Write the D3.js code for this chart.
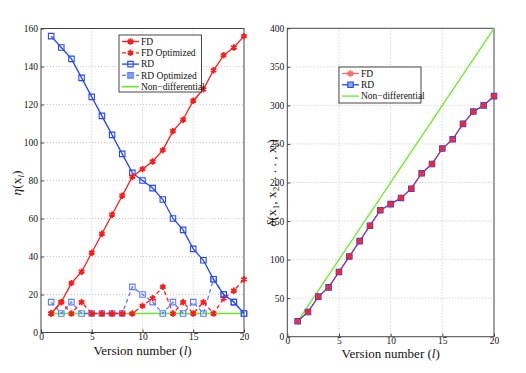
<!DOCTYPE html>
<html>
<head>
<meta charset="utf-8">
<script src="https://cdn.jsdelivr.net/npm/d3@7"></script>
<style>
  body { margin: 0; background: #fff; }
  .grid line { stroke: #bbb; stroke-dasharray: 1,2; stroke-width: 0.8; }
</style>
</head>
<body>
<div id="chart"></div>
<script>
// version numbers
const versions = d3.range(1, 21);

// left panel: eta(x_l)
const fdEta      = [10,16,26,32,42,52,62,72,82,86,90,96,106,112,122,128,138,146,150,156];
const fdOptEta   = [10,16,10,16,10,10,10,10,10,14,18,24,10,16,10,16,10,18,22,28];
const rdEta      = [156,150,144,134,124,114,104,94,84,80,76,70,60,54,44,38,28,20,16,10];
const rdOptEta   = [16,10,16,10,10,10,10,10,24,20,16,10,16,10,16,10,28,20,16,10];
const nonDiffEta = [10,10,10,10,10,10,10,10,10,10,10,10,10,10,10,10,10,10,10,10];

// right panel: delta(x_1..x_l)
const fdDelta      = [20,32,52,64,84,104,124,144,164,172,180,192,212,224,244,256,276,292,300,312];
const rdDelta      = [20,32,52,64,84,104,124,144,164,172,180,192,212,224,244,256,276,292,300,312];
const nonDiffDelta = [20,400];
const nonDiffX     = [1,20];

const xTicks = [0,5,10,15,20];
const leftYTicks = [0,20,40,60,80,100,120,140,160];
const rightYTicks = [0,50,100,150,200,250,300,350,400];

const SERIF = "'Liberation Serif', 'Times New Roman', 'DejaVu Serif', serif";
const RED = "#ff1a1a", BLUE = "#2446ff", LIGHTBLUE = "#5b7cff", GREEN = "#66ee22";

const svg = d3.select("#chart").append("svg")
    .attr("width", 526).attr("height", 373)
    .attr("font-family", SERIF);

function drawPanel(box, yMax, yTicks, series, legend) {
    const x = d3.scaleLinear().domain([0, 20]).range([box.left, box.right]);
    const y = d3.scaleLinear().domain([0, yMax]).range([box.bottom, box.top]);
    const g = svg.append("g");

    // dotted grid
    const grid = g.append("g").attr("class", "grid");
    grid.selectAll(".gx").data(xTicks.slice(1, -1)).enter().append("line")
        .attr("x1", d => x(d)).attr("x2", d => x(d))
        .attr("y1", box.top).attr("y2", box.bottom);
    grid.selectAll(".gy").data(yTicks.slice(1, -1)).enter().append("line")
        .attr("x1", box.left).attr("x2", box.right)
        .attr("y1", d => y(d)).attr("y2", d => y(d));

    // axes
    const xAxis = g.append("g").attr("transform", `translate(0,${box.bottom})`)
        .call(d3.axisBottom(x).tickValues(xTicks).tickSize(-3).tickPadding(1));
    const yAxis = g.append("g").attr("transform", `translate(${box.left},0)`)
        .call(d3.axisLeft(y).tickValues(yTicks).tickSize(-3).tickPadding(3));
    [xAxis, yAxis].forEach(a => {
        a.attr("font-family", SERIF).attr("font-size", 9.5);
        a.select(".domain").remove();
        a.selectAll("line").attr("stroke", "#444");
        a.selectAll("text").attr("fill", "#111");
    });

    // frame
    g.append("rect")
        .attr("x", box.left).attr("y", box.top)
        .attr("width", box.right - box.left).attr("height", box.bottom - box.top)
        .attr("fill", "none").attr("stroke", "#444").attr("stroke-width", 1);

    const clipId = "clip" + Math.round(box.left);
    svg.append("clipPath").attr("id", clipId).append("rect")
        .attr("x", box.left - 6).attr("y", box.top - 8)
        .attr("width", box.right - box.left + 12).attr("height", box.bottom - box.top + 14);
    const plot = g.append("g").attr("clip-path", `url(#${clipId})`);

    series.forEach(s => {
        const pts = s.xs.map((v, i) => [v, s.values[i]]);
        plot.append("path")
            .datum(pts)
            .attr("fill", "none")
            .attr("stroke", s.color)
            .attr("stroke-width", s.width || 1.3)
            .attr("stroke-dasharray", s.dash || null)
            .attr("opacity", s.opacity || 1)
            .attr("d", d3.line().x(d => x(d[0])).y(d => y(d[1])));
        if (s.marker) {
            plot.selectAll(null).data(pts).enter().append("path")
                .attr("transform", d => `translate(${x(d[0])},${y(d[1])})`)
                .call(sel => styleMarker(sel, s));
        }
    });

    // legend
    const lg = g.append("g");
    lg.append("rect")
        .attr("x", legend.x).attr("y", legend.y)
        .attr("width", legend.w).attr("height", legend.h)
        .attr("fill", "#fff").attr("stroke", "#333").attr("stroke-width", 0.9);
    legend.items.forEach((s, i) => {
        const ly = legend.y + 6.5 + i * 11.3;
        lg.append("line")
            .attr("x1", legend.x + 3).attr("x2", legend.x + 20)
            .attr("y1", ly).attr("y2", ly)
            .attr("stroke", s.color).attr("stroke-width", s.width || 1.3)
            .attr("stroke-dasharray", s.dash || null)
            .attr("opacity", s.opacity || 1);
        if (s.marker) {
            lg.append("path")
                .attr("transform", `translate(${legend.x + 11.5},${ly})`)
                .call(sel => styleMarker(sel, s));
        }
        lg.append("text")
            .attr("x", legend.x + 22).attr("y", ly + 3.3)
            .attr("font-size", 9.5).attr("fill", "#111")
            .text(s.name);
    });

    // x label
    const xl = g.append("text")
        .attr("x", (box.left + box.right) / 2).attr("y", box.labelY)
        .attr("text-anchor", "middle")
        .attr("font-size", 13).attr("fill", "#111");
    xl.append("tspan").text("Version number (");
    xl.append("tspan").attr("font-style", "italic").text("l");
    xl.append("tspan").text(")");
    return { x, y, g };
}

function styleMarker(sel, s) {
    if (s.marker === "star") {
        sel.attr("d", d3.symbol().type(d3.symbolAsterisk).size(28)())
            .attr("fill", "none").attr("stroke", s.color).attr("stroke-width", 1.9)
            .attr("opacity", s.opacity || 1);
    } else {
        sel.attr("d", d3.symbol().type(d3.symbolSquare).size(30)())
            .attr("fill", s.fill || "none")
            .attr("stroke", s.mcolor || s.color).attr("stroke-width", 1.1);
    }
}

// left panel
drawPanel(
    { left: 41, right: 244, top: 28.5, bottom: 332.5, labelY: 355 }, 160, leftYTicks,
    [
        { name: "Non\u2212differential", xs: versions, values: nonDiffEta, color: GREEN, width: 1.6 },
        { name: "RD Optimized", xs: versions, values: rdOptEta, color: LIGHTBLUE, dash: "4,3", marker: "square" },
        { name: "FD Optimized", xs: versions, values: fdOptEta, color: RED, dash: "4,3", marker: "star" },
        { name: "RD", xs: versions, values: rdEta, color: BLUE, marker: "square" },
        { name: "FD", xs: versions, values: fdEta, color: RED, marker: "star" }
    ],
    {
        x: 119, y: 35, w: 82.5, h: 57,
        items: [
            { name: "FD", color: RED, marker: "star" },
            { name: "FD Optimized", color: RED, dash: "4,3", marker: "star" },
            { name: "RD", color: BLUE, marker: "square" },
            { name: "RD Optimized", color: LIGHTBLUE, dash: "4,3", marker: "square", fill: "#8aa0ff" },
            { name: "Non\u2212differential", color: GREEN, width: 1.6 }
        ]
    }
);

// right panel
drawPanel(
    { left: 287.3, right: 494, top: 28.3, bottom: 336.7, labelY: 358 }, 400, rightYTicks,
    [
        { name: "Non\u2212differential", xs: nonDiffX, values: nonDiffDelta, color: GREEN, width: 1.3 },
        { name: "RD", xs: versions, values: rdDelta, color: BLUE, marker: "square", fill: "#8fa3ff" },
        { name: "FD", xs: versions, values: fdDelta, color: RED, marker: "star", opacity: 0.9, width: 0.8 }
    ],
    {
        x: 339, y: 67, w: 82, h: 36,
        items: [
            { name: "FD", color: "#ff6b6b", marker: "star" },
            { name: "RD", color: BLUE, marker: "square", fill: "#8fa3ff" },
            { name: "Non\u2212differential", color: GREEN, width: 1.3 }
        ]
    }
);

// y labels
const yl1 = svg.append("text")
    .attr("transform", "translate(21,183) rotate(-90)")
    .attr("text-anchor", "middle")
    .attr("font-size", 13.5).attr("fill", "#111");
yl1.append("tspan").attr("font-style", "italic").text("\u03b7");
yl1.append("tspan").text("(x");
yl1.append("tspan").attr("font-style", "italic").attr("font-size", 9).attr("dy", 3).text("l");
yl1.append("tspan").attr("dy", -3).text(")");

const yl2 = svg.append("text")
    .attr("transform", "translate(276,183) rotate(-90)")
    .attr("text-anchor", "middle")
    .attr("font-size", 13.5).attr("fill", "#111");
yl2.append("tspan").attr("font-style", "italic").text("\u03b4");
yl2.append("tspan").text("(x");
yl2.append("tspan").attr("font-size", 9).attr("dy", 3).text("1");
yl2.append("tspan").attr("dy", -3).text(", x");
yl2.append("tspan").attr("font-size", 9).attr("dy", 3).text("2");
yl2.append("tspan").attr("dy", -3).text(", . . . , x");
yl2.append("tspan").attr("font-style", "italic").attr("font-size", 9).attr("dy", 3).text("l");
yl2.append("tspan").attr("dy", -3).text(")");
</script>
</body>
</html>
